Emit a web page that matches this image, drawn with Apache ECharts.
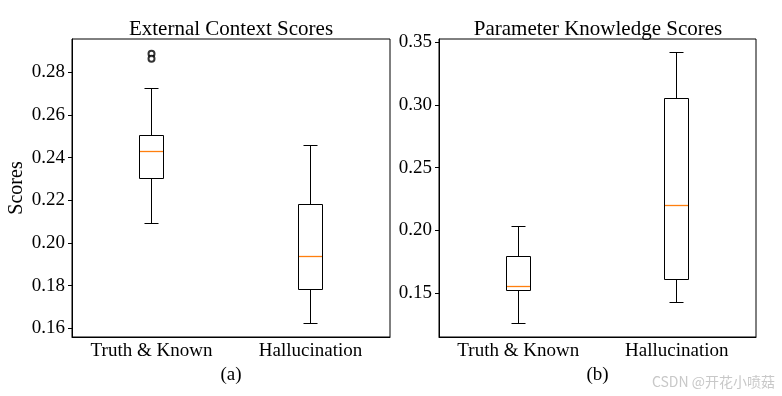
<!DOCTYPE html>
<html>
<head>
<meta charset="utf-8">
<script src="https://cdn.jsdelivr.net/npm/echarts@6/dist/echarts.min.js"></script>
<style>
  html, body { margin: 0; padding: 0; background: #fff; }
  #main { width: 782px; height: 396px; }
</style>
</head>
<body>
<div id="main"></div>
<script>
// categories and box stats: [min, q1, median, q3, max]
var categories = ['Truth & Known', 'Hallucination'];
var extStats = [
    [0.2090, 0.2304, 0.2429, 0.2503, 0.2725],
    [0.1623, 0.1784, 0.1935, 0.2180, 0.2456]
];
var extOutliers = [[0, 0.2888], [0, 0.2864]];
var parStats = [
    [0.1259, 0.1522, 0.1549, 0.1788, 0.2030],
    [0.1421, 0.1610, 0.2201, 0.3050, 0.3420]
];
var extTicks = [0.16, 0.18, 0.20, 0.22, 0.24, 0.26, 0.28];
var parTicks = [0.15, 0.20, 0.25, 0.30, 0.35];

var serif = 'Liberation Serif';

function toRows(stats) {
    return stats.map(function (s, i) { return [i].concat(s); });
}

// snap to pixel centre so 1px lines stay crisp
function px(v) { return Math.round(v - 0.5) + 0.5; }

function renderBox(params, api) {
    var i = api.value(0);
    var pt = function (k) { return api.coord([i, api.value(k)]); };
    var x = px(pt(1)[0]);
    var yMin = px(pt(1)[1]), yQ1 = px(pt(2)[1]), yMed = px(pt(3)[1]), yQ3 = px(pt(4)[1]), yMax = px(pt(5)[1]);
    var bw = 12, cw = 7;
    var ln = { stroke: '#000', lineWidth: 1 };
    return {
        type: 'group',
        children: [
            { type: 'rect', shape: { x: x - bw, y: yQ3, width: 2 * bw, height: yQ1 - yQ3 }, style: { stroke: '#000', fill: 'none', lineWidth: 1 } },
            { type: 'line', shape: { x1: x, y1: yQ3, x2: x, y2: yMax }, style: ln },
            { type: 'line', shape: { x1: x, y1: yQ1, x2: x, y2: yMin }, style: ln },
            { type: 'line', shape: { x1: x - cw, y1: yMax, x2: x + cw, y2: yMax }, style: ln },
            { type: 'line', shape: { x1: x - cw, y1: yMin, x2: x + cw, y2: yMin }, style: ln },
            { type: 'line', z2: 10, shape: { x1: x - bw + 0.5, y1: yMed, x2: x + bw - 0.5, y2: yMed }, style: { stroke: '#ff7f0e', lineWidth: 1.3 } }
        ]
    };
}

function xAx(idx, name) {
    return {
        type: 'category', gridIndex: idx, data: categories,
        boundaryGap: true,
        name: name, nameLocation: 'middle', nameGap: 28,
        nameTextStyle: { fontFamily: serif, fontSize: 19, color: '#000' },
        axisLine: { show: true, lineStyle: { color: '#000' } },
        axisTick: { alignWithLabel: true, length: 4, lineStyle: { color: '#000' } },
        axisLabel: { fontFamily: serif, fontSize: 19, color: '#000', margin: 5 },
        splitLine: { show: false }
    };
}

function yAx(idx, min, max, ticks, name) {
    return {
        type: 'value', gridIndex: idx, min: min, max: max,
        name: name, nameLocation: 'middle', nameGap: 45, nameRotate: 90,
        nameTextStyle: { fontFamily: serif, fontSize: 20, color: '#000' },
        axisLine: { show: true, lineStyle: { color: '#000' } },
        axisTick: { show: true, length: 4, customValues: ticks, lineStyle: { color: '#000' } },
        axisLabel: {
            fontFamily: serif, fontSize: 19, color: '#000', margin: 7,
            customValues: ticks,
            formatter: function (v) { return v.toFixed(2); }
        },
        splitLine: { show: false }
    };
}

var chart = echarts.init(document.getElementById('main'));
var option = {
    animation: false,
    backgroundColor: '#fff',
    title: [
        { text: 'External Context Scores', left: 226, top: 14, textAlign: 'center',
          textStyle: { fontFamily: serif, fontSize: 21, fontWeight: 'normal', color: '#000' } },
        { text: 'Parameter Knowledge Scores', left: 593, top: 14, textAlign: 'center',
          textStyle: { fontFamily: serif, fontSize: 21, fontWeight: 'normal', color: '#000' } }
    ],
    grid: [
        { left: 72, top: 39, width: 318, height: 298, show: true, borderColor: '#000', borderWidth: 1 },
        { left: 439, top: 39, width: 317, height: 298, show: true, borderColor: '#000', borderWidth: 1 }
    ],
    xAxis: [xAx(0, '(a)'), xAx(1, '(b)')],
    yAxis: [yAx(0, 0.1559, 0.2957, extTicks, 'Scores'), yAx(1, 0.1149, 0.3527, parTicks, '')],
    series: [
        { type: 'custom', xAxisIndex: 0, yAxisIndex: 0, renderItem: renderBox,
          encode: { x: 0, y: [1, 2, 3, 4, 5] }, data: toRows(extStats) },
        { type: 'scatter', xAxisIndex: 0, yAxisIndex: 0, symbol: 'emptyCircle', symbolSize: 6,
          itemStyle: { color: '#000', borderColor: '#000', borderWidth: 0.8 }, data: extOutliers },
        { type: 'custom', xAxisIndex: 1, yAxisIndex: 1, renderItem: renderBox,
          encode: { x: 0, y: [1, 2, 3, 4, 5] }, data: toRows(parStats) }
    ],
    graphic: [
        { type: 'text', right: 7, top: 375,
          style: { text: 'CSDN @开花小喷菇', fill: '#c8c8c8', font: '14px "Noto Sans CJK SC"' } }
    ]
};
chart.setOption(option);
window.addEventListener('resize', function () { chart.resize(); });
</script>
</body>
</html>
